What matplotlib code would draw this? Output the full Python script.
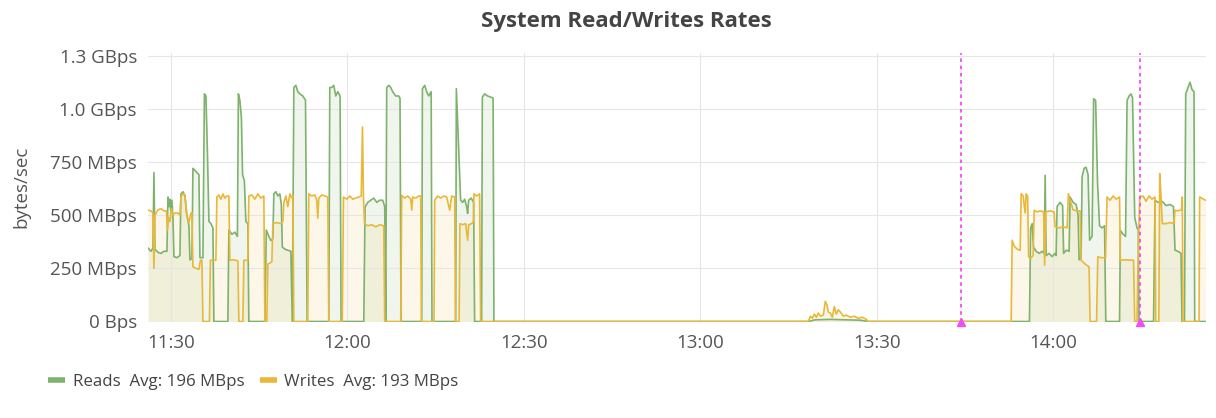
import matplotlib
matplotlib.use("Agg")
import matplotlib.pyplot as plt
from matplotlib.lines import Line2D

# ---- data (time = minutes after 11:00, values in MBps) ----
read_t = [26.1, 26.60, 26.94, 27.11, 27.28, 27.79, 28.30, 28.81, 29.32, 29.49, 29.66, 29.83, 30.00, 30.17,
          30.34, 30.51, 31.02, 31.53, 31.70, 32.04, 32.38, 32.72, 33.06, 33.23, 33.57, 33.74, 34.08, 34.42,
          34.76, 34.93, 35.44, 35.69, 35.95, 36.20, 36.46, 36.80, 37.14, 37.30, 39.68, 39.85, 40.36, 40.87,
          41.30, 41.47, 41.72, 41.98, 42.18, 42.49, 42.74, 43.08, 43.25, 45.97, 46.22, 46.65, 46.99, 47.33,
          47.50, 47.84, 48.18, 48.52, 48.77, 48.94, 49.37, 49.88, 50.39, 50.64, 50.90, 51.24, 51.57, 51.91,
          52.42, 52.88, 53.16, 56.84, 57.01, 57.35, 57.69, 58.03, 58.37, 58.76, 58.93, 62.79, 63.01, 63.47,
          63.98, 64.49, 65.00, 65.51, 66.01, 66.35, 66.52, 66.69, 67.03, 67.37, 67.71, 68.22, 68.73, 68.95,
          69.12, 72.64, 72.76, 73.15, 73.49, 73.83, 74.25, 74.39, 78.42, 78.53, 78.93, 79.26, 79.60, 79.94,
          80.28, 80.45, 80.62, 81.05, 81.47, 81.64, 82.83, 82.95, 83.34, 83.85, 84.36, 84.78, 84.92,
          138.38, 139.57, 142.12, 144.67, 147.22, 148.58,
          175.98, 176.18, 176.44, 176.66, 177.12, 177.63, 178.14, 178.48, 178.65, 178.81, 179.32, 179.83,
          180.34, 180.51, 180.68, 181.19, 181.62, 181.79, 182.21, 182.72, 182.89, 183.40, 183.91, 184.25,
          184.42, 184.76, 184.93, 185.27, 185.61, 185.95, 186.21, 186.63, 186.89, 187.23, 187.56, 187.90,
          188.33, 188.75, 188.96, 191.30, 191.44, 191.90, 192.32, 192.58, 192.92, 193.25, 193.51, 193.88,
          194.27, 194.49, 194.61, 197.08, 197.33, 197.84, 198.52, 199.20, 199.88, 200.47, 200.73, 201.24,
          201.75, 201.92, 202.34, 202.55, 202.94, 203.28, 203.62, 203.96, 204.08, 205.9]
read_v = [345, 330, 345, 700, 340, 325, 320, 330, 330, 585, 540, 575, 510, 570,
          490, 305, 300, 310, 600, 610, 590, 500, 450, 290, 295, 720, 710, 700,
          690, 300, 300, 1070, 1060, 800, 470, 460, 440, 0, 0, 430, 410, 420,
          400, 1070, 1040, 960, 690, 660, 470, 460, 0, 0, 430, 400, 380, 390,
          600, 610, 590, 600, 550, 350, 340, 335, 330, 0, 1100, 1110, 1080, 1070,
          1060, 1040, 0, 0, 1100, 1100, 1110, 1060, 1080, 1060, 0, 0, 538, 560,
          570, 580, 560, 570, 570, 540, 0, 1100, 1110, 1100, 1080, 1060, 1060, 1050,
          0, 0, 1094, 1110, 1080, 1060, 1080, 0, 0, 1094, 800, 570, 560, 575,
          540, 508, 570, 580, 560, 0, 0, 1054, 1070, 1060, 1055, 1050, 0,
          0, 8, 10, 8, 6, 0,
          0, 440, 460, 350, 330, 320, 330, 320, 687, 310, 320, 305,
          320, 310, 540, 560, 545, 320, 335, 330, 585, 560, 550, 500,
          290, 300, 680, 720, 725, 690, 382, 400, 1047, 1040, 650, 450,
          440, 450, 0, 0, 429, 410, 400, 1039, 1060, 1070, 1050, 490,
          440, 430, 0, 0, 570, 560, 565, 545, 550, 540, 335, 330,
          320, 0, 0, 1070, 1100, 1125, 1090, 1080, 0, 0]

write_t = [26.1, 26.60, 26.94, 27.11, 27.28, 27.79, 28.30, 28.81, 29.24, 29.41, 29.58, 29.83, 30.08, 30.34,
           30.68, 31.19, 31.53, 31.70, 32.04, 32.38, 32.63, 33.06, 33.40, 33.57, 33.74, 34.25, 34.76, 35.01,
           35.27, 35.44, 36.54, 36.71, 37.64, 37.81, 38.15, 38.49, 38.83, 39.17, 39.51, 39.85, 40.02, 40.70,
           41.38, 41.55, 42.23, 42.40, 43.08, 43.25, 43.76, 44.27, 44.78, 45.29, 45.80, 45.97, 46.31, 46.48,
           47.16, 47.33, 48.01, 48.69, 49.03, 49.20, 49.54, 49.88, 50.22, 50.56, 50.73, 50.90, 53.27, 53.44,
           53.95, 54.46, 54.80, 54.97, 55.14, 55.65, 56.16, 56.67, 56.84, 59.13, 59.34, 59.90, 60.41, 60.92,
           61.43, 61.94, 62.36, 62.57, 62.74, 62.91, 63.47, 64.15, 64.83, 65.51, 66.18, 66.35, 69.07, 69.24,
           69.75, 70.26, 70.77, 70.94, 71.11, 71.62, 72.13, 72.47, 72.59, 74.73, 74.85, 75.36, 75.87, 76.38,
           76.89, 77.40, 77.74, 78.25, 78.37, 79.00, 79.14, 79.60, 80.11, 80.45, 80.62, 81.13, 81.43, 81.52,
           81.98, 82.49, 82.66,
           138.38, 138.72, 139.06, 139.40, 139.74, 140.08, 140.42, 140.93, 141.27, 141.53, 141.78, 142.12,
           142.46, 142.80, 143.14, 143.48, 143.82, 144.33, 144.84, 145.52, 146.20, 146.88, 147.56, 148.24,
           148.58,
           172.87, 173.04, 173.38, 173.89, 174.40, 174.57, 174.91, 175.25, 175.42, 175.67, 175.84, 176.27,
           176.61, 176.78, 177.29, 177.80, 178.39, 178.56, 178.73, 179.49, 180.17, 180.34, 181.02, 181.70,
           182.38, 182.60, 182.89, 183.40, 184.08, 184.59, 184.76, 185.44, 186.12, 186.29, 187.39, 187.60,
           188.16, 188.92, 189.18, 189.69, 190.20, 190.71, 191.30, 191.44, 192.41, 193.68, 193.88, 194.27,
           194.44, 194.73, 195.29, 195.80, 196.31, 196.82, 197.33, 197.45, 197.98, 198.13, 198.35, 198.57,
           199.20, 199.88, 200.56, 200.73, 201.24, 201.83, 201.97, 202.09, 204.81, 204.92, 205.9]
write_v = [523, 520, 510, 250, 500, 525, 530, 520, 520, 430, 490, 470, 530, 500,
           510, 510, 500, 585, 600, 595, 510, 465, 510, 510, 257, 250, 245, 288,
           288, 0, 0, 288, 288, 585, 595, 575, 600, 580, 590, 590, 288, 290,
           285, 0, 0, 288, 288, 590, 595, 575, 600, 580, 590, 0, 0, 270,
           280, 460, 465, 460, 470, 560, 590, 540, 600, 580, 590, 0, 0, 600,
           590, 595, 570, 485, 580, 595, 590, 585, 0, 0, 585, 575, 590, 575,
           580, 585, 590, 914, 585, 460, 450, 455, 445, 455, 450, 0, 0, 593,
           580, 590, 575, 523, 585, 580, 590, 590, 0, 0, 570, 590, 580, 590,
           585, 523, 590, 585, 0, 0, 460, 455, 460, 382, 455, 460, 470, 600,
           590, 600, 0,
           0, 25, 15, 35, 20, 40, 25, 30, 95, 80, 45, 40,
           20, 70, 35, 55, 45, 25, 30, 20, 25, 15, 20, 10,
           0,
           0, 382, 355, 340, 335, 601, 590, 510, 600, 590, 304, 300,
           310, 523, 515, 520, 515, 265, 515, 520, 515, 445, 440, 445,
           440, 601, 570, 525, 520, 520, 288, 270, 257, 0, 0, 304,
           300, 300, 585, 570, 590, 575, 585, 288, 290, 288, 0, 0,
           288, 585, 590, 565, 590, 575, 585, 0, 0, 695, 585, 460,
           460, 465, 460, 523, 520, 525, 585, 0, 0, 585, 570]

annotation_t = [164.32, 194.78]

x_ticks = [30, 60, 90, 120, 150, 180]
x_tick_labels = ["11:30", "12:00", "12:30", "13:00", "13:30", "14:00"]
y_ticks = [0, 250, 500, 750, 1000, 1250]
y_tick_labels = ["0 Bps", "250 MBps", "500 MBps", "750 MBps", "1.0 GBps", "1.3 GBps"]

series_names = ["Reads  Avg: 196 MBps", "Writes  Avg: 193 MBps"]

GREEN = "#7EB26D"
YELLOW = "#EAB839"
PINK = "#F24DF2"
TEXT = "#555555"

plt.rcParams["font.family"] = ["Open Sans", "DejaVu Sans"]

fig = plt.figure(figsize=(12.16, 4.18), dpi=100)
ax = fig.add_axes([148 / 1216, 1 - 321.5 / 418, (1206 - 148) / 1216, (321.5 - 53) / 418])

ax.fill_between(read_t, read_v, 0, color=GREEN, alpha=0.11, lw=0, zorder=1)
ax.fill_between(write_t, write_v, 0, color=YELLOW, alpha=0.11, lw=0, zorder=1)
ax.plot(read_t, read_v, color=GREEN, lw=1.2, zorder=3, solid_joinstyle="round")
ax.plot(write_t, write_v, color=YELLOW, lw=1.2, zorder=4, solid_joinstyle="round")

for t in annotation_t:
    ax.axvline(t, color=PINK, lw=1.3, ls=(0, (2, 2)), zorder=5)
    ax.plot([t], [0], marker="^", color=PINK, markersize=6, zorder=6, clip_on=False)

ax.set_xlim(26.1, 206.0)
ax.set_ylim(0, 1262)
ax.set_xticks(x_ticks)
ax.set_xticklabels(x_tick_labels)
ax.set_yticks(y_ticks)
ax.set_yticklabels(y_tick_labels)
ax.tick_params(length=0, labelsize=13.5, colors=TEXT)
ax.tick_params(axis="x", pad=9)
ax.tick_params(axis="y", pad=8)
ax.grid(True, color="#E6E6E6", lw=0.8, zorder=0)
for s in ax.spines.values():
    s.set_visible(False)

ax.set_ylabel("bytes/sec", fontsize=13.5, color=TEXT, labelpad=14)
fig.text(626 / 1216, 1 - 22 / 418, "System Read/Writes Rates", ha="center", va="center",
         fontsize=16, fontweight="bold", color="#444444")

handles = [Line2D([], [], color=GREEN, lw=4, solid_capstyle="butt"),
           Line2D([], [], color=YELLOW, lw=4, solid_capstyle="butt")]
fig.legend(handles, series_names, loc="center left", bbox_to_anchor=(33 / 1216, 1 - 382 / 418),
           ncol=2, frameon=False, fontsize=12.2, handlelength=1.0, handletextpad=0.45,
           columnspacing=0.9, labelcolor="#444444")

fig.savefig("out.png", dpi=100)
